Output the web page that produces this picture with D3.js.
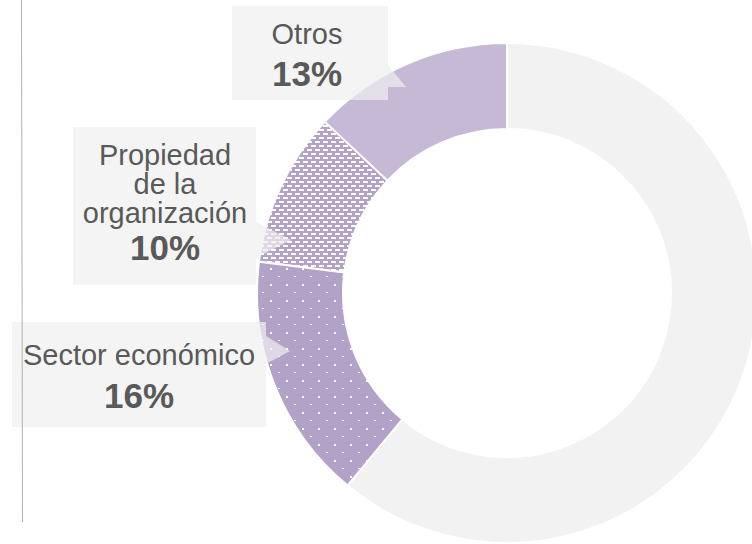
<!DOCTYPE html>
<html>
<head>
<meta charset="utf-8">
<script src="https://cdn.jsdelivr.net/npm/d3@7"></script>
<style>
  body { margin: 0; background: #fff; }
  svg { display: block; }
</style>
</head>
<body>
<div id="chart"></div>
<script>
// chart values, counter-clockwise from 12 o'clock
const categories = ["Otros", "Propiedad de la organización", "Sector económico", "Resto"];
const values = [13, 10, 16, 61];
const labelLines = [["Otros"], ["Propiedad", "de la", "organización"], ["Sector económico"], []];
const percentLabels = ["13%", "10%", "16%", ""];

const width = 752, height = 544;
const cx = 507, cy = 293, outerR = 250, innerR = 164;

// callout boxes (layout only): box rect, pointer triangle, text anchor
const callouts = [
    { x0: 232, y0: 6, x1: 388, y1: 100, ptr: [[388, 65], [406, 87], [388, 87]], tx: 307, ty: 44, gap: 42 },
    { x0: 73, y0: 127, x1: 256, y1: 285, ptr: [[256, 222], [291, 240], [256, 258]], tx: 165, ty: 165, gap: 37 },
    { x0: 12, y0: 322, x1: 266, y1: 427, ptr: [[266, 336], [290, 351], [266, 364]], tx: 139, ty: 365, gap: 43 }
];

const svg = d3.select("#chart").append("svg")
    .attr("width", width)
    .attr("height", height);

const defs = svg.append("defs");

// dense white dashes
const dash = defs.append("pattern")
    .attr("id", "dashes")
    .attr("patternUnits", "userSpaceOnUse")
    .attr("width", 8).attr("height", 8);
dash.append("rect").attr("width", 8).attr("height", 8).attr("fill", "#b3a2c7");
[[0, 0], [4, 4], [-4, 4]].forEach(p => {
    dash.append("rect").attr("x", p[0]).attr("y", p[1]).attr("width", 5).attr("height", 2).attr("fill", "#fff");
});

// sparse white dots
const dots = defs.append("pattern")
    .attr("id", "dots")
    .attr("patternUnits", "userSpaceOnUse")
    .attr("width", 16).attr("height", 16);
dots.append("rect").attr("width", 16).attr("height", 16).attr("fill", "#b3a2c7");
[[3, 7], [11, 15]].forEach(p => {
    dots.append("rect").attr("x", p[0]).attr("y", p[1]).attr("width", 2).attr("height", 2).attr("fill", "#fff");
});

const fills = ["#c5b9d5", "url(#dashes)", "url(#dots)", "#f2f2f2"];

const pie = d3.pie()
    .sort(null)
    .startAngle(0)
    .endAngle(-2 * Math.PI)
    .value(d => d);

const arc = d3.arc()
    .innerRadius(innerR)
    .outerRadius(outerR);

const donut = svg.append("g")
    .attr("transform", "translate(" + cx + "," + cy + ")");

donut.selectAll("path")
    .data(pie(values))
    .enter()
    .append("path")
    .attr("d", arc)
    .attr("fill", (d, i) => fills[i])
    .attr("stroke", "#fff")
    .attr("stroke-width", 2);

// callout labels
const labels = svg.append("g");
callouts.forEach((c, i) => {
    const p = c.ptr;
    const path = "M" + c.x0 + "," + c.y0 + "H" + c.x1 + "V" + p[0][1] +
        "L" + p[1][0] + "," + p[1][1] + "L" + p[2][0] + "," + p[2][1] +
        "V" + c.y1 + "H" + c.x0 + "Z";
    labels.append("path")
        .attr("d", path)
        .attr("fill", "#f0f0f0")
        .attr("fill-opacity", 0.7);

    const lines = labelLines[i];
    lines.forEach((t, j) => {
        labels.append("text")
            .attr("x", c.tx)
            .attr("y", c.ty + j * 29)
            .attr("text-anchor", "middle")
            .attr("font-family", "Liberation Sans, Arial, sans-serif")
            .attr("font-size", 29)
            .attr("fill", "#595959")
            .text(t);
    });
    labels.append("text")
        .attr("x", c.tx)
        .attr("y", c.ty + (lines.length - 1) * 29 + c.gap)
        .attr("text-anchor", "middle")
        .attr("font-family", "Liberation Sans, Arial, sans-serif")
        .attr("font-size", 35)
        .attr("font-weight", "bold")
        .attr("fill", "#595959")
        .text(percentLabels[i]);
});

// left axis line
svg.append("line")
    .attr("x1", 21.5).attr("y1", 0)
    .attr("x2", 22.5).attr("y2", 522)
    .attr("stroke", "#b0b0b0")
    .attr("stroke-width", 1);
</script>
</body>
</html>
